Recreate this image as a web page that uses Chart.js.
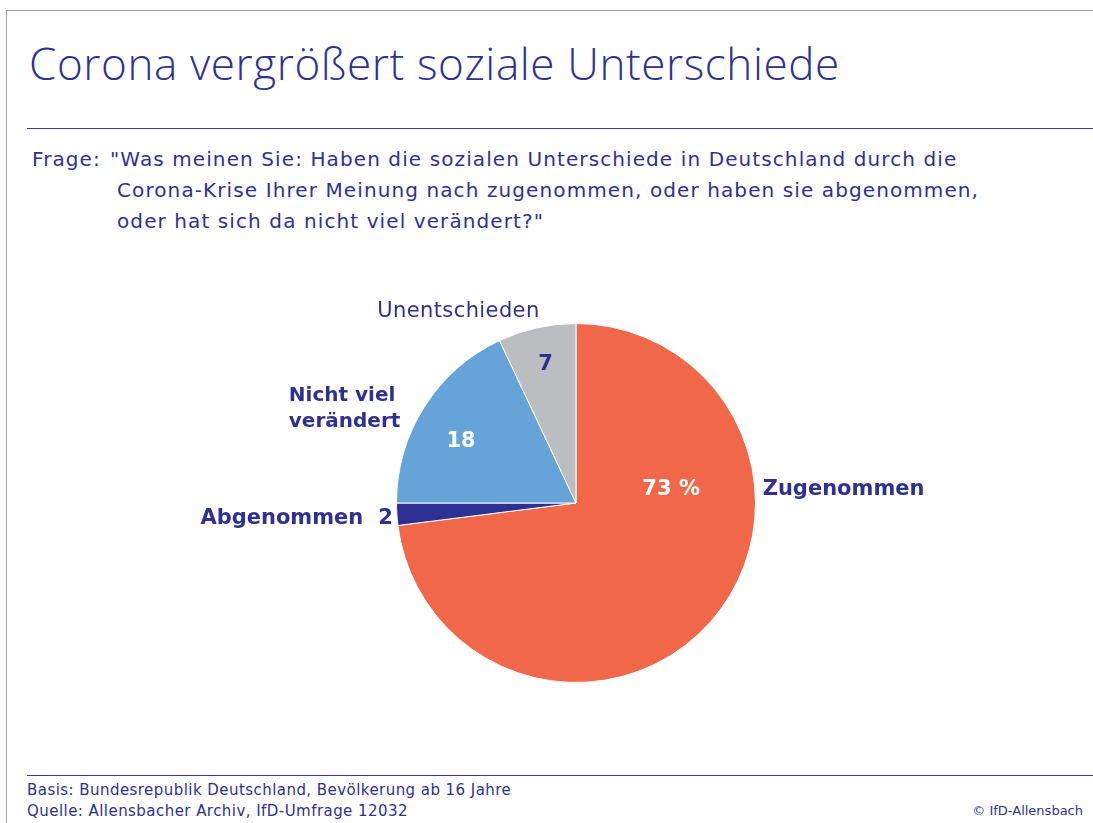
<!DOCTYPE html>
<html lang="de">
<head>
<meta charset="utf-8">
<title>Corona vergrößert soziale Unterschiede</title>
<script src="https://cdn.jsdelivr.net/npm/chart.js@4.4.1/dist/chart.umd.min.js"></script>
<style>
  body { margin: 0; background: #fff; font-family: "DejaVu Sans", sans-serif; color: #2e3192; }
  #page { position: relative; width: 1093px; height: 823px; overflow: hidden; }
  .abs { position: absolute; white-space: nowrap; }
  #frame-top { left: 6px; top: 10px; width: 1100px; height: 0; border-top: 1.5px solid #a0a0a0; }
  #frame-left { left: 6px; top: 10px; width: 0; height: 830px; border-left: 1.5px solid #a0a0a0; }
  .rule { left: 27px; width: 1080px; height: 0; border-top: 1.5px solid #3a3d96; }
  #title { left: 29px; top: 33px; font-family: "Open Sans", sans-serif; font-size: 44px; font-weight: 300; letter-spacing: 0.6px; }
  .q { font-size: 20px; line-height: 31px; letter-spacing: 1.1px; }
  .foot { font-size: 15px; line-height: 21px; letter-spacing: 0.45px; }
  canvas { position: absolute; left: 0; top: 0; }
</style>
</head>
<body>
<div id="page">
  <div id="frame-top" class="abs"></div>
  <div id="frame-left" class="abs"></div>
  <div id="title" class="abs">Corona vergrößert soziale Unterschiede</div>
  <div class="abs rule" style="top:128px"></div>
  <div class="abs q" style="left:32px; top:144px">Frage:</div>
  <div class="abs q" style="left:110px; top:144px">"Was meinen Sie: Haben die sozialen Unterschiede in Deutschland durch die</div>
  <div class="abs q" style="left:117px; top:175px">Corona-Krise Ihrer Meinung nach zugenommen, oder haben sie abgenommen,</div>
  <div class="abs q" style="left:117px; top:206px">oder hat sich da nicht viel verändert?"</div>
  <div class="abs rule" style="top:775px"></div>
  <div class="abs foot" style="left:27px; top:780px">Basis: Bundesrepublik Deutschland, Bevölkerung ab 16 Jahre</div>
  <div class="abs foot" style="left:27px; top:801px">Quelle: Allensbacher Archiv, IfD-Umfrage 12032</div>
  <div class="abs foot" style="right:10px; top:800px; font-size:13px; letter-spacing:0">© IfD-Allensbach</div>
  <canvas id="chart" width="1093" height="823"></canvas>
</div>
<script>
const categories = ['Zugenommen', 'Abgenommen', 'Nicht viel verändert', 'Unentschieden'];
const values = [73, 2, 18, 7];
const valueLabels = ['73 %', '2', '18', '7'];
const colors = ['#f0674a', '#2e3192', '#65a3d8', '#bcbdc1'];

const NAVY = '#2e3192';
const FONT = '"DejaVu Sans", sans-serif';

// label placement relative to pie centre, in units of the radius
const labelLayout = [
  { value: [0.53, -0.075, 'center', '#fff'], name: [[1.04, -0.075]], nameFont: 'bold 21px ', nameAlign: 'left' },
  { value: [-1.02, 0.085, 'right', NAVY], name: [[-1.185, 0.085]], nameFont: 'bold 21px ', nameAlign: 'right' },
  { value: [-0.64, -0.345, 'center', '#fff'], name: [[-1.6, -0.60], [-1.6, -0.45]], nameFont: 'bold 20px ', nameAlign: 'left', split: ['Nicht viel', 'verändert'] },
  { value: [-0.17, -0.772, 'center', NAVY], name: [[-0.655, -1.067]], nameFont: '21px ', nameAlign: 'center', spacing: '0.4px' }
];

const labelPlugin = {
  id: 'pieLabels',
  afterDatasetsDraw(chart) {
    const ctx = chart.ctx;
    const arcs = chart.getDatasetMeta(0).data;
    const cx = arcs[0].x, cy = arcs[0].y, r = arcs[0].outerRadius;
    ctx.save();
    ctx.textBaseline = 'middle';
    labelLayout.forEach((l, i) => {
      ctx.letterSpacing = '0px';
      ctx.font = 'bold 21px ' + FONT;
      ctx.fillStyle = l.value[3];
      ctx.textAlign = l.value[2];
      ctx.fillText(valueLabels[i], cx + l.value[0] * r, cy + l.value[1] * r);
      ctx.fillStyle = NAVY;
      ctx.textAlign = l.nameAlign;
      ctx.font = l.nameFont + FONT;
      ctx.letterSpacing = l.spacing || '0px';
      const lines = l.split || [categories[i]];
      lines.forEach((t, k) => {
        ctx.fillText(t, cx + l.name[k][0] * r, cy + l.name[k][1] * r);
      });
    });
    ctx.restore();
  }
};

new Chart(document.getElementById('chart'), {
  type: 'pie',
  data: {
    labels: categories,
    datasets: [{
      data: values,
      backgroundColor: colors,
      borderColor: '#ffffff',
      borderWidth: 1
    }]
  },
  options: {
    responsive: false,
    animation: false,
    layout: { padding: { left: 396, right: 337, top: 323, bottom: 140 } },
    plugins: { legend: { display: false }, tooltip: { enabled: false } }
  },
  plugins: [labelPlugin]
});
</script>
</body>
</html>
